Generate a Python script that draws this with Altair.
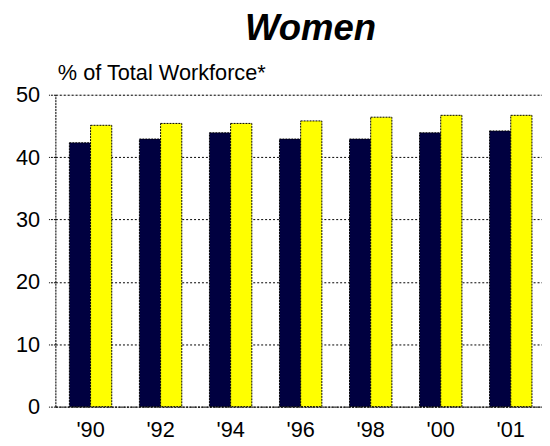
import altair as alt
import pandas as pd

years = ["'90", "'92", "'94", "'96", "'98", "'00", "'01"]
series_a = [42.3, 42.9, 43.9, 42.9, 42.9, 43.9, 44.2]
series_b = [45.1, 45.4, 45.4, 45.8, 46.4, 46.7, 46.7]
series_names = ["A", "B"]
colors = ["#000040", "#FFFF00"]

rows = []
for i, y in enumerate(years):
    rows.append({"year": y, "series": series_names[0], "value": series_a[i]})
    rows.append({"year": y, "series": series_names[1], "value": series_b[i]})
df = pd.DataFrame(rows)

FONT = "Liberation Sans"

chart = alt.Chart(df).mark_bar(
    stroke="black", strokeWidth=1, strokeDash=[2, 1]
).encode(
    x=alt.X("year:N", sort=years,
            scale=alt.Scale(paddingInner=0.395, paddingOuter=0.2),
            axis=alt.Axis(title=None, labelAngle=0, labelFont=FONT, labelFontSize=22,
                          labelColor="black", ticks=False, labelPadding=13,
                          domainColor="black", domainWidth=1, domainDash=[2, 1])),
    xOffset=alt.XOffset("series:N", sort=series_names, scale=alt.Scale(paddingInner=0, paddingOuter=0)),
    y=alt.Y("value:Q", scale=alt.Scale(domain=[0, 50], nice=False),
            axis=alt.Axis(values=[0, 10, 20, 30, 40, 50], title="% of Total Workforce*",
                          titleAngle=0, titleAlign="left", titleBaseline="alphabetic",
                          titleX=2, titleY=-15, titleFont=FONT, titleFontSize=22,
                          titleFontWeight="normal", titleColor="black",
                          labelFont=FONT, labelFontSize=22, labelColor="black",
                          labelPadding=9, tickSize=7, tickColor="black", tickDash=[2, 1],
                          domainColor="black", domainDash=[2, 1],
                          grid=True, gridColor="black", gridDash=[2, 2], gridWidth=1)),
    color=alt.Color("series:N", sort=series_names,
                    scale=alt.Scale(domain=series_names, range=colors), legend=None),
).properties(
    width=497, height=316,
    title=alt.Title("Women", font=FONT, fontSize=37, fontWeight="bold", fontStyle="italic",
                    color="black", anchor="middle", offset=14, dx=10),
    autosize=alt.AutoSizeParams(type="none"),
    padding={"left": 48, "top": 85, "right": -4, "bottom": 37},
).configure_view(stroke=None).configure(background="white")

chart.save("out.html", embed_options={"renderer": "svg", "actions": False})
